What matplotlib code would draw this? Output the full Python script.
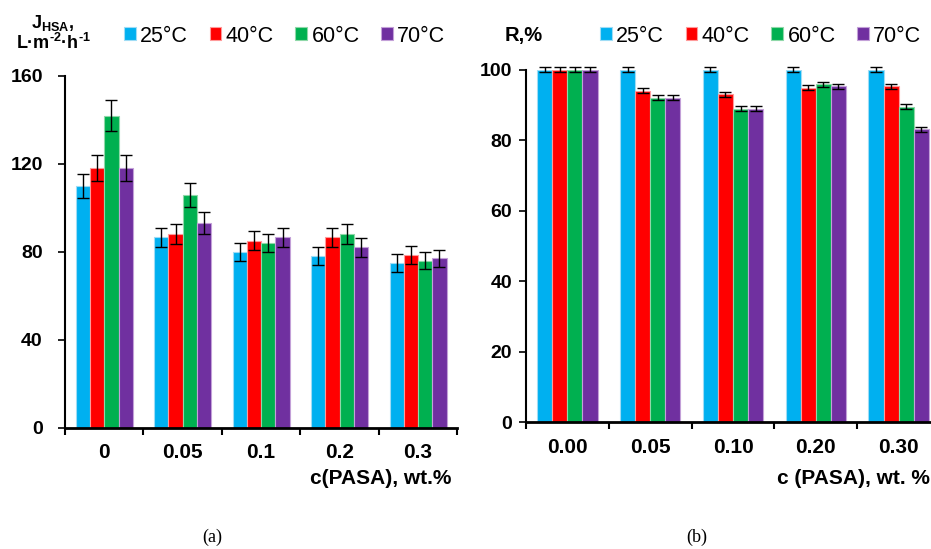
import matplotlib
matplotlib.use("Agg")
import matplotlib.pyplot as plt
import numpy as np

plt.rcParams["font.family"] = ["Liberation Sans", "DejaVu Sans"]
plt.rcParams["mathtext.fontset"] = "custom"
plt.rcParams["mathtext.rm"] = "Liberation Sans:bold"
plt.rcParams["mathtext.bf"] = "Liberation Sans:bold"
plt.rcParams["mathtext.default"] = "bf"

# ---------------- Data ----------------
temps = ["25°C", "40°C", "60°C", "70°C"]
colors = ["#00B0F0", "#FF0000", "#00B050", "#7030A0"]
edges = ["#9FDCF5", "#FF9A9A", "#8FD8A8", "#C3A0D8"]

# (a) flux J_HSA
conc_a = ["0", "0.05", "0.1", "0.2", "0.3"]
flux_25 = [110, 86.5, 80, 78, 75]
flux_40 = [118, 88, 85, 86.5, 78.5]
flux_60 = [142, 106, 84, 88, 76]
flux_70 = [118, 93, 86.5, 82, 77]
flux_err_25 = [5.5, 4.5, 4.2, 4.0, 4.0]
flux_err_40 = [6.0, 4.5, 4.3, 4.5, 4.2]
flux_err_60 = [7.0, 5.5, 4.0, 4.5, 4.0]
flux_err_70 = [6.0, 5.0, 4.3, 4.3, 4.0]

# (b) rejection R
conc_b = ["0.00", "0.05", "0.10", "0.20", "0.30"]
rej_25 = [100, 100, 100, 100, 100]
rej_40 = [100, 94, 93, 94.8, 95.2]
rej_60 = [100, 92, 88.9, 95.8, 89.4]
rej_70 = [100, 92, 88.9, 95.2, 83.1]
rej_err = [0.7, 0.7, 0.7, 0.7, 0.7]

W, H = 931, 549
fig = plt.figure(figsize=(W / 100, H / 100), dpi=100)

def draw(ax, cats, series, errs, ymax, yticks, ypad):
    n = len(cats)
    x = np.arange(n)
    bw = 0.182
    for i, (vals, err) in enumerate(zip(series, errs)):
        pos = x + (i - 1.5) * bw
        ax.bar(pos, vals, bw, color=colors[i], edgecolor=edges[i], linewidth=0.8, label=temps[i], zorder=2)
        ax.errorbar(pos, vals, yerr=err, fmt="none", ecolor="black", elinewidth=1,
                    capsize=4, capthick=1, zorder=3, clip_on=False)
    ax.set_xlim(-0.5, n - 0.5)
    ax.set_ylim(0, ymax)
    ax.set_yticks(yticks)
    ax.set_xticks(np.arange(n + 1) - 0.5)
    ax.set_xticklabels([])
    ax.set_xticks(x, minor=True)
    ax.set_xticklabels(cats, minor=True, fontsize=15, fontweight="bold")
    ax.tick_params(axis="x", which="minor", length=0, pad=11)
    ax.tick_params(axis="x", which="major", length=5, width=1.5, direction="out")
    ax.tick_params(axis="y", length=5, width=1.2, direction="out", pad=ypad, labelsize=14)
    for lab in ax.get_yticklabels():
        lab.set_fontweight("bold")
    for s in ["top", "right"]:
        ax.spines[s].set_visible(False)
    ax.spines["left"].set_linewidth(1.5)
    ax.spines["bottom"].set_linewidth(2)

leg_kw = dict(ncol=4, frameon=False, fontsize=15.5, handlelength=0.55, handleheight=0.55,
              handletextpad=0.2, columnspacing=1.0, borderaxespad=0, borderpad=0, loc="center left")

# ---------------- (a) ----------------
ax1 = fig.add_axes([65 / W, 1 - 427.5 / H, 392.3 / W, 351.5 / H])
draw(ax1, conc_a, [flux_25, flux_40, flux_60, flux_70],
     [flux_err_25, flux_err_40, flux_err_60, flux_err_70], 160, [0, 40, 80, 120, 160], 11)
fig.text(53 / W, 1 - 23 / H, "J$_{HSA}$,", ha="center", va="center", fontsize=13, fontweight="bold")
fig.text(53 / W, 1 - 43 / H, "L·m$^{\u20102}$·h$^{\u20101}$", ha="center", va="center",
         fontsize=13, fontweight="bold")
ax1.legend(bbox_to_anchor=(124 / W, 1 - 36 / H), bbox_transform=fig.transFigure, **leg_kw)
fig.text(451 / W, 1 - 478 / H, "c(PASA), wt.%", ha="right", va="center", fontsize=15, fontweight="bold")

# ---------------- (b) ----------------
ax2 = fig.add_axes([526 / W, 1 - 422.3 / H, 414 / W, 352.8 / H])
draw(ax2, conc_b, [rej_25, rej_40, rej_60, rej_70],
     [rej_err, rej_err, rej_err, rej_err], 100, [0, 20, 40, 60, 80, 100], 5)
fig.text(524 / W, 1 - 35 / H, "R,%", ha="center", va="center", fontsize=14.5, fontweight="bold")
ax2.legend(bbox_to_anchor=(600 / W, 1 - 36 / H), bbox_transform=fig.transFigure, **leg_kw)
fig.text(777 / W, 1 - 478 / H, "c (PASA), wt. %", ha="left", va="center", fontsize=15, fontweight="bold")

# panel captions
fig.text(212 / W, 1 - 537 / H, "(a)", ha="center", va="center", fontsize=13, family="Liberation Serif")
fig.text(697 / W, 1 - 537 / H, "(b)", ha="center", va="center", fontsize=13, family="Liberation Serif")

fig.savefig("out.png", dpi=100)
